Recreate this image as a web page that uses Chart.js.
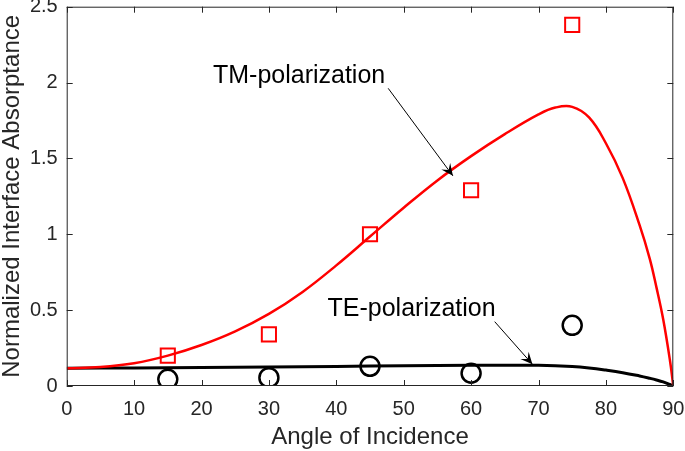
<!DOCTYPE html>
<html>
<head>
<meta charset="utf-8">
<script src="https://cdn.jsdelivr.net/npm/chart.js@4/dist/chart.umd.min.js"></script>
<style>
html,body{margin:0;padding:0;background:#fff;}
#wrap{width:685px;height:451px;position:relative;}
</style>
</head>
<body>
<div id="wrap"><canvas id="c" width="685" height="451"></canvas></div>
<script>
// ---- data ----
const tmAngles = [0,5,10,15,20,25,30,35,40,45,50,55,60,65,70,72.5,75,77.5,80,82.5,85,86.5,87.5,88.5,89.5,90];
const tmCurve  = [0.117,0.125,0.15,0.20,0.27,0.36,0.475,0.62,0.795,0.985,1.175,1.355,1.515,1.66,1.79,1.835,1.84,1.77,1.60,1.37,1.06,0.84,0.65,0.44,0.17,0];
const teAngles = [0,10,20,30,40,50,60,65,70,75,77.5,80,82.5,85,86.5,87.5,88.5,89.5,90];
const teCurve  = [0.117,0.119,0.122,0.125,0.129,0.133,0.136,0.137,0.136,0.128,0.119,0.105,0.088,0.066,0.051,0.04,0.027,0.01,0];
const measAngles = [15,30,45,60,75];
const tmMeasured = [0.2,0.34,1.0,1.29,2.38];
const teMeasured = [0.044,0.055,0.13,0.084,0.40];
const xTicks = [0,10,20,30,40,50,60,70,80,90];
const yTicks = [0,0.5,1,1.5,2,2.5];
const annotationTexts = ["TM-polarization","TE-polarization"];
const annotationAnchors = [[21.7,2.0],[38.7,0.463]];        // text left/baseline (data units)
const arrowStarts = [[47.7,1.962],[63.5,0.424]];
const arrowTips = [[57.3,1.385],[69.1,0.143]];

const FONT = "'Liberation Sans', Arial, Helvetica, sans-serif";
const AX = '#262626';

const zip = (xs, ys) => xs.map((x,i)=>({x:x,y:ys[i]}));

const boxPlugin = {
  id:'box',
  afterDatasetsDraw(chart){
    const ctx = chart.ctx, a = chart.chartArea;
    const xs = chart.scales.x, ys = chart.scales.y;
    ctx.save();
    ctx.strokeStyle = AX; ctx.lineWidth = 1;
    ctx.strokeRect(a.left+0.5, a.top+0.5, a.right-a.left-1, a.bottom-a.top-1);
    const L = 6;
    ctx.beginPath();
    xTicks.forEach(v=>{
      const px = Math.round(xs.getPixelForValue(v))+0.5;
      ctx.moveTo(px,a.bottom); ctx.lineTo(px,a.bottom-L);
      ctx.moveTo(px,a.top); ctx.lineTo(px,a.top+L);
    });
    yTicks.forEach(v=>{
      const py = Math.round(ys.getPixelForValue(v))+0.5;
      ctx.moveTo(a.left,py); ctx.lineTo(a.left+L,py);
      ctx.moveTo(a.right,py); ctx.lineTo(a.right-L,py);
    });
    ctx.stroke();
    // annotations
    ctx.fillStyle = '#000';
    ctx.font = '25px ' + FONT;
    ctx.textBaseline = 'alphabetic';
    ctx.textAlign = 'left';
    annotationTexts.forEach((t,i)=>{
      ctx.fillText(t, xs.getPixelForValue(annotationAnchors[i][0]), ys.getPixelForValue(annotationAnchors[i][1]));
    });
    ctx.strokeStyle = '#000'; ctx.lineWidth = 1;
    arrowStarts.forEach((s,i)=>{
      const x0 = xs.getPixelForValue(s[0]), y0 = ys.getPixelForValue(s[1]);
      const x1 = xs.getPixelForValue(arrowTips[i][0]), y1 = ys.getPixelForValue(arrowTips[i][1]);
      const ang = Math.atan2(y1-y0, x1-x0);
      ctx.beginPath(); ctx.moveTo(x0,y0); ctx.lineTo(x1,y1); ctx.stroke();
      const hl = 12, hw = 5.5;
      const bx = x1 - hl*Math.cos(ang), by = y1 - hl*Math.sin(ang);
      const nx = -Math.sin(ang), ny = Math.cos(ang);
      const mx = x1 - 0.6*hl*Math.cos(ang), my = y1 - 0.6*hl*Math.sin(ang);
      ctx.beginPath();
      ctx.moveTo(x1,y1);
      ctx.lineTo(bx+nx*hw, by+ny*hw);
      ctx.lineTo(mx,my);
      ctx.lineTo(bx-nx*hw, by-ny*hw);
      ctx.closePath();
      ctx.fill();
    });
    ctx.restore();
  }
};

new Chart(document.getElementById('c'), {
  type:'scatter',
  data:{
    datasets:[
      {label:'TM theory', data:zip(tmAngles,tmCurve), showLine:true, borderColor:'#ff0000', borderWidth:2.5, pointRadius:0, tension:0.4, fill:false},
      {label:'TE theory', data:zip(teAngles,teCurve), showLine:true, borderColor:'#000000', borderWidth:3, pointRadius:0, tension:0.4, fill:false},
      {label:'TM measured', data:zip(measAngles,tmMeasured), showLine:false, pointStyle:'rect', pointRadius:10, borderColor:'#ff0000', backgroundColor:'rgba(0,0,0,0)', pointBorderWidth:2},
      {label:'TE measured', data:zip(measAngles,teMeasured), showLine:false, pointStyle:'circle', pointRadius:9.5, borderColor:'#000000', backgroundColor:'rgba(0,0,0,0)', pointBorderWidth:2.5}
    ]
  },
  options:{
    responsive:false, animation:false,
    layout:{autoPadding:false, padding:{left:0,right:11.7,top:6.7,bottom:0}},
    plugins:{legend:{display:false}, tooltip:{enabled:false}},
    scales:{
      x:{
        type:'linear', min:0, max:90,
        afterBuildTicks(s){ s.ticks = xTicks.map(v=>({value:v})); },
        afterFit(s){ s.height = 65; s.paddingLeft = 0; s.paddingRight = 0; },
        grid:{display:false, drawTicks:false}, border:{display:false},
        ticks:{color:AX, font:{family:FONT,size:20,lineHeight:1}, padding:13, maxRotation:0},
        title:{display:true, text:'Angle of Incidence', color:AX, font:{family:FONT,size:24,lineHeight:1}, padding:{top:0,bottom:2}}
      },
      y:{
        type:'linear', min:0, max:2.5,
        afterBuildTicks(s){ s.ticks = yTicks.map(v=>({value:v})); },
        afterFit(s){ s.width = 66.7; s.paddingTop = 0; s.paddingBottom = 0; },
        grid:{display:false, drawTicks:false}, border:{display:false},
        ticks:{color:AX, font:{family:FONT,size:20,lineHeight:1}, padding:9, callback:(v)=>String(v)},
        title:{display:true, text:'Normalized Interface Absorptance', color:AX, font:{family:FONT,size:24,lineHeight:1}, padding:{top:0,bottom:0}}
      }
    }
  },
  plugins:[boxPlugin]
});
</script>
</body>
</html>
